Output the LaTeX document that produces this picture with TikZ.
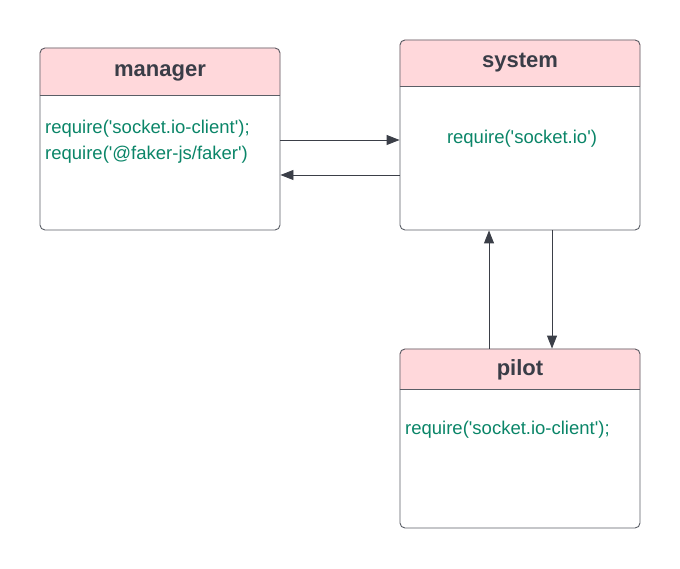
\documentclass[tikz,border=0pt]{standalone}
\usepackage{fontspec}
\setmainfont{Liberation Sans}
\usetikzlibrary{positioning, calc, arrows.meta}

\definecolor{headfill}{RGB}{255,216,219}
\definecolor{boxline}{RGB}{90,94,102}
\definecolor{titlegray}{RGB}{58,61,71}
\definecolor{codegreen}{RGB}{10,133,104}
\definecolor{arrowgray}{RGB}{59,63,72}

\newcommand{\q}{\textquotesingle}

\pgfdeclarelayer{background}
\pgfsetlayers{background,main}

\tikzset{
	box/.style={draw=boxline, line width=0.9pt, rounded corners=5pt, minimum width=240pt, inner sep=0pt},
	title/.style={font=\bfseries\fontsize{22}{26}\selectfont, text=titlegray, anchor=base, inner sep=0pt},
	code/.style={font=\fontsize{18.5}{22}\selectfont, text=codegreen, anchor=base west, inner sep=0pt},
	link/.style={draw=arrowgray, line width=0.9pt, -{Triangle[length=13pt,width=10pt]}}
}

\begin{document}
\begin{tikzpicture}[x=1pt,y=-1pt]
	\useasboundingbox (0,0) rectangle (680,569);

	% classes
	\node[box, minimum height=182pt] (manager) at (160,139) {};
	\node[box, minimum height=190pt] (system) at (520,135) {};
	\node[box, minimum height=179pt] (pilot) at (520,438.5) {};

	% header bands
	\begin{pgfonlayer}{background}
		\fill[headfill] ([yshift=-48pt]manager.north west) {[rounded corners=5pt] -- (manager.north west) -- (manager.north east)} -- ([yshift=-48pt]manager.north east) -- cycle;
		\fill[headfill] ([yshift=-47pt]system.north west) {[rounded corners=5pt] -- (system.north west) -- (system.north east)} -- ([yshift=-47pt]system.north east) -- cycle;
		\fill[headfill] ([yshift=-41pt]pilot.north west) {[rounded corners=5pt] -- (pilot.north west) -- (pilot.north east)} -- ([yshift=-41pt]pilot.north east) -- cycle;
	\end{pgfonlayer}
	\draw[boxline, line width=0.9pt] ([yshift=-48pt]manager.north west) -- ([yshift=-48pt]manager.north east);
	\draw[boxline, line width=0.9pt] ([yshift=-47pt]system.north west) -- ([yshift=-47pt]system.north east);
	\draw[boxline, line width=0.9pt] ([yshift=-41pt]pilot.north west) -- ([yshift=-41pt]pilot.north east);

	% titles
	\node[title] (managertitle) at (160,77) {manager};
	\node[title] (systemtitle) at (520,68) {system};
	\node[title] (pilottitle) at (520,375) {pilot};

	% requires
	\node[code] (managercode1) at (45,134) {require(\q socket.io-client\q);};
	\node[code] (managercode2) at (45,160) {require(\q @faker-js/faker\q)};
	\node[code, anchor=base] (systemcode) at (522,144) {require(\q socket.io\q)};
	\node[code] (pilotcode) at (405,434) {require(\q socket.io-client\q);};

	% links
	\coordinate (mgrout) at ([yshift=-1pt]manager.east);
	\coordinate (mgrin) at ([yshift=-36pt]manager.east);
	\coordinate (pilotout) at ([xshift=-31pt]pilot.north);
	\coordinate (sysout) at ([xshift=32pt]system.south);
	\draw[link] (mgrout) -- (mgrout -| system.west);
	\draw[link] (mgrin -| system.west) -- (mgrin);
	\draw[link] (pilotout) -- (pilotout |- system.south);
	\draw[link] (sysout) -- (sysout |- pilot.north);
\end{tikzpicture}
\end{document}
